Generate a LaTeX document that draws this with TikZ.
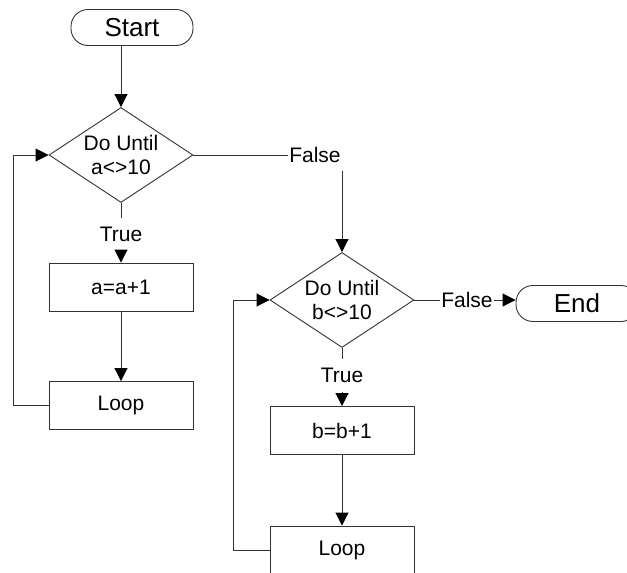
\documentclass[tikz,border=0pt]{standalone}
\usepackage{fontspec}
\setmainfont{Liberation Sans}
\usetikzlibrary{shapes.geometric,arrows.meta}
\begin{document}
\begin{tikzpicture}[x=1pt,y=-1pt,
  every node/.style={font=\fontsize{21}{24}\selectfont, inner sep=0pt},
  line/.style={draw=black!80, line width=0.9pt},
  arr/.style={line, -{Triangle[length=13pt,width=13pt,color=black]}},
  terminal/.style={draw=black!80, line width=0.9pt, rounded corners=17pt,
    minimum width=122pt, minimum height=36pt, font=\fontsize{26}{30}\selectfont},
  process/.style={draw=black!80, line width=0.9pt, minimum width=144pt, minimum height=48pt},
  decision/.style={diamond, draw=black!80, line width=0.9pt, minimum width=144pt, minimum height=95pt},
  tag/.style={minimum height=32pt, inner xsep=1pt}
]
\useasboundingbox (0,0) rectangle (627,573);

% first loop
\node[terminal] (start) at (132,27.5) {Start};
\node[decision, label={[align=center]center:Do Until\\a<>10}] (d1) at (121,155) {};
\node[tag] (t1) at (121,234) {True};
\node[process] (a1) at (121,287) {a=a+1};
\node[process] (l1) at (121,405.5) {Loop};
\node[tag] (f1) at (315,155) {False};

% second loop
\node[decision, label={[align=center]center:Do Until\\b<>10}] (d2) at (342,300) {};
\node[tag] (f2) at (467,300) {False};
\node[terminal] (end) at (577,303.5) {End};
\node[tag] (t2) at (342,375.5) {True};
\node[process] (b1) at (342,430.5) {b=b+1};
\node[process] (l2) at (342,550) {Loop};

% connectors
\draw[arr] (d1.north |- start.south) -- (d1.north);
\draw[line] (d1.south) -- (t1.north);
\draw[arr] (t1.south) -- (a1.north);
\draw[arr] (a1.south) -- (l1.north);
\draw[arr] (l1.west) -- ++(-35,0) |- (d1.west);
\draw[line] (d1.east) -- (f1.west);
\draw[arr] (d2.north |- f1.south) -- (d2.north);

\draw[line] (d2.south) -- (t2.north);
\draw[arr] (t2.south) -- (b1.north);
\draw[arr] (b1.south) -- (l2.north);
\draw[arr] (l2.west) -- ++(-36,0) |- (d2.west);
\draw[line] (d2.east) -- (f2.west);
\draw[arr] (f2.east) -- (end.west |- f2.east);
\end{tikzpicture}
\end{document}
